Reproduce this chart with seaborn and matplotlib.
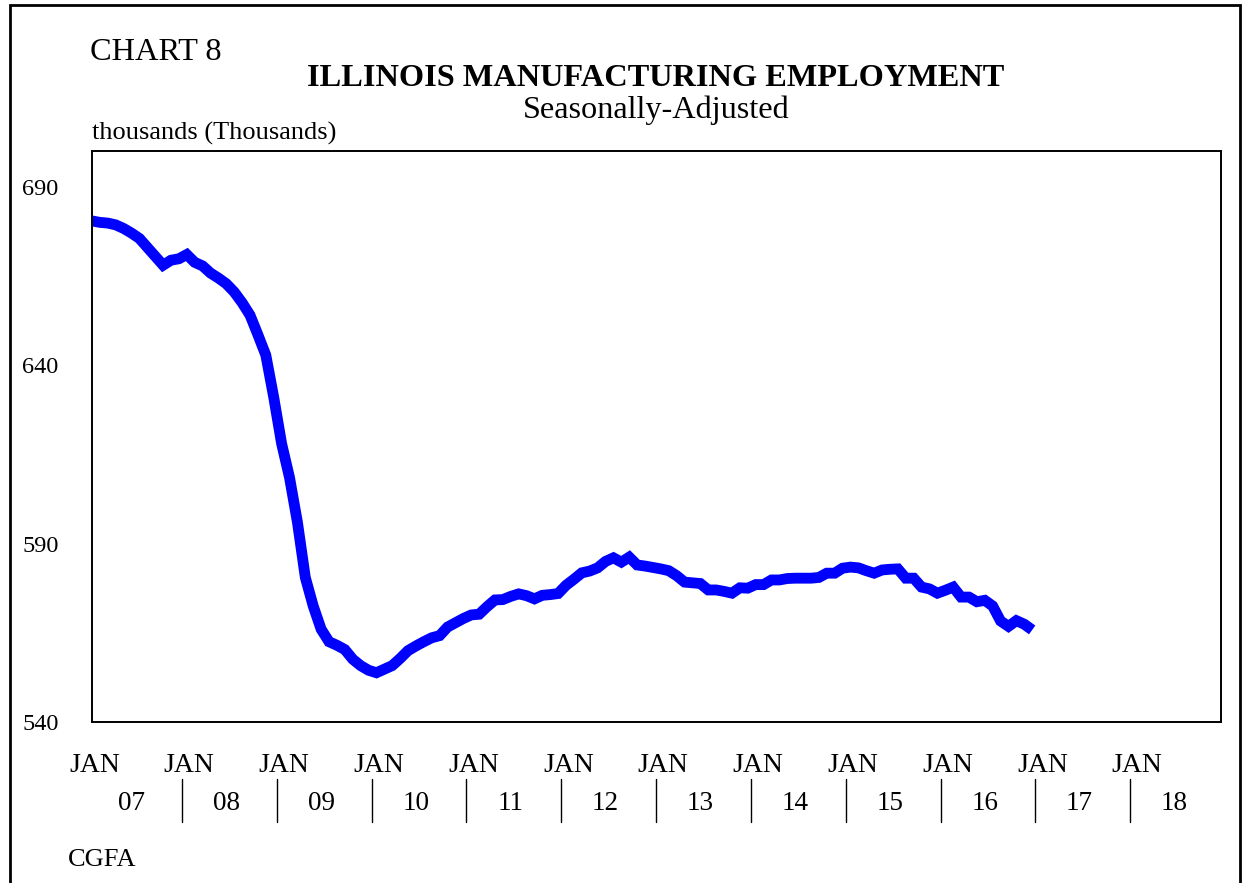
import numpy as np
import pandas as pd
import matplotlib
matplotlib.use("Agg")
import matplotlib.pyplot as plt
import matplotlib.transforms as mtransforms
from matplotlib.patches import Rectangle
import seaborn as sns

# Illinois manufacturing employment, thousands, monthly from Jan 2007
employment = [
    680.4, 680.0, 679.8, 679.3, 678.3, 677.0, 675.5, 673.0, 670.5, 668.0, 669.4, 669.8,  # 2007
    671.0, 668.8, 667.8, 665.8, 664.4, 662.8, 660.5, 657.5, 654.0, 648.5, 642.8, 631.0,  # 2008
    618.0, 608.5, 596.0, 580.5, 572.5, 566.0, 562.5, 561.5, 560.3, 557.6, 555.8, 554.5,  # 2009
    553.8, 554.8, 555.8, 557.8, 560.0, 561.3, 562.5, 563.6, 564.2, 566.6, 567.8, 569.0,  # 2010
    570.0, 570.2, 572.3, 574.2, 574.3, 575.2, 575.9, 575.4, 574.5, 575.5, 575.7, 576.0,  # 2011
    578.3, 580.0, 581.8, 582.3, 583.2, 585.0, 586.0, 584.8, 586.2, 584.0, 583.7, 583.3,  # 2012
    582.9, 582.4, 581.0, 579.2, 579.0, 578.8, 577.0, 577.0, 576.6, 576.1, 577.6, 577.5,  # 2013
    578.5, 578.5, 579.8, 579.8, 580.2, 580.3, 580.3, 580.3, 580.5, 581.7, 581.7, 583.1,  # 2014
    583.4, 583.2, 582.4, 581.7, 582.6, 582.8, 582.9, 580.3, 580.3, 577.8, 577.3, 576.1,  # 2015
    576.9, 577.8, 575.0, 575.0, 573.7, 574.1, 572.5, 568.3, 566.8, 568.4, 567.4, 565.8,  # 2016
]
year_labels = ["07", "08", "09", "10", "11", "12", "13", "14", "15", "16", "17", "18"]
y_ticks = [540, 590, 640, 690]

df = pd.DataFrame({"month": np.arange(len(employment)), "employment": employment})

sns.set_style("white")
plt.rcParams["font.family"] = ["Liberation Serif", "DejaVu Serif"]
plt.rcParams["text.color"] = "black"
plt.rcParams["xtick.color"] = "black"
plt.rcParams["ytick.color"] = "black"

W, H = 1247, 883
fig = plt.figure(figsize=(W / 100, H / 100), dpi=100)
ax = fig.add_axes([92 / W, 1 - 722 / H, (1221 - 92) / W, (722 - 151) / H])

sns.lineplot(data=df, x="month", y="employment", ax=ax, color="#0000ff",
             linewidth=7.8, solid_joinstyle="miter", solid_capstyle="butt")

ax.set_xlim(0, 142.9)
ax.set_ylim(540, 700)
ax.set_xlabel("")
ax.set_ylabel("")

# y axis labels
ax.set_yticks(y_ticks)
ax.set_yticklabels([str(v) for v in y_ticks], fontsize=17.5)
ax.tick_params(axis="y", length=0, pad=24)

# x axis: JAN at each year start, year number underneath, dividers between years
jan_pos = [12 * i + 0.3 for i in range(len(year_labels))]
ax.set_xticks(jan_pos)
ax.set_xticklabels(["JAN"] * len(jan_pos), fontsize=20)
ax.tick_params(axis="x", length=0, pad=22)

trans = mtransforms.blended_transform_factory(ax.transData, ax.transAxes)
for i, yl in enumerate(year_labels):
    ax.text(12 * i + 5, -0.143, yl, transform=trans, ha="center", va="center",
            fontsize=19.5, clip_on=False)
    if i > 0:
        ax.plot([12 * i - 0.6, 12 * i - 0.6], [-0.1, -0.176], transform=trans,
                color="black", linewidth=1.0, clip_on=False)

for sp in ax.spines.values():
    sp.set_visible(True)
    sp.set_color("black")
    sp.set_linewidth(1.4)

# titles and notes
fig.text(90 / W, 1 - 60 / H, "CHART 8", fontsize=23.3, ha="left", va="baseline")
fig.text(656 / W, 1 - 86 / H, "ILLINOIS MANUFACTURING EMPLOYMENT", fontsize=23.3,
         fontweight="bold", ha="center", va="baseline")
fig.text(656 / W, 1 - 118 / H, "Seasonally-Adjusted", fontsize=23.2,
         ha="center", va="baseline")
fig.text(92 / W, 1 - 140 / H, "thousands (Thousands)", fontsize=19,
         ha="left", va="baseline")
fig.text(68 / W, 1 - 866 / H, "CGFA", fontsize=19, ha="left", va="baseline")

# outer frame
fig.patches.append(Rectangle((10 / W, -0.05), (1240 - 10) / W, 1 - 5 / H + 0.05,
                             transform=fig.transFigure, fill=False,
                             edgecolor="black", linewidth=2.0))

fig.savefig("out.png", dpi=100)
